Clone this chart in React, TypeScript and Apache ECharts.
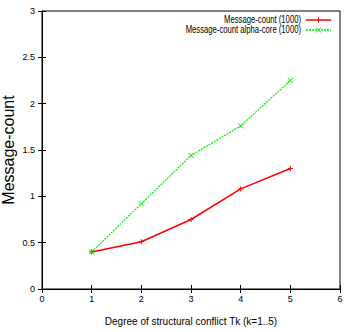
import React, { useEffect, useRef } from "react";
import * as echarts from "echarts";

const xValues = [1, 2, 3, 4, 5];
const messageCount = [0.4, 0.51, 0.75, 1.08, 1.3];
const messageCountAlpha = [0.4, 0.92, 1.44, 1.76, 2.25];
const seriesNames = ["Message-count (1000)", "Message-count alpha-core (1000)"];
const xAxisTitle = "Degree of structural conflict Tk (k=1..5)";
const yAxisTitle = "Message-count";

const FONT = "'Liberation Sans', Arial, sans-serif";
const PLUS = "path://M0,5L10,5M5,0L5,10";
const CROSS = "path://M0,0L10,10M10,0L0,10";
const RED = "#ff0000";
const GREEN = "#00ee00";

function legendEntry(name: string, y: number, color: string, dashed: boolean, cross: boolean) {
  const textRight = 301;
  const x1 = 306;
  const x2 = 331;
  const mx = 318.5;
  const s = 2.5;
  const marker = cross
    ? [
        { type: "line", shape: { x1: mx - s, y1: y - s, x2: mx + s, y2: y + s }, style: { stroke: color, lineWidth: 1 } },
        { type: "line", shape: { x1: mx - s, y1: y + s, x2: mx + s, y2: y - s }, style: { stroke: color, lineWidth: 1 } },
      ]
    : [
        { type: "line", shape: { x1: mx, y1: y - s, x2: mx, y2: y + s }, style: { stroke: color, lineWidth: 1 } },
      ];
  return [
    {
      type: "text",
      x: textRight,
      y,
      scaleX: 0.77,
      style: { text: name, x: 0, y: 0, align: "right", verticalAlign: "middle", fontFamily: FONT, fontSize: 10, fill: "#000" },
    },
    {
      type: "line",
      shape: { x1, y1: y, x2, y2: y },
      style: { stroke: color, lineWidth: 1.5, lineDash: dashed ? [2, 1] : null },
    },
    ...marker,
  ];
}

export default function App() {
  const ref = useRef<HTMLDivElement>(null);
  useEffect(() => {
    if (!ref.current) return;
    const chart = echarts.init(ref.current, null, { renderer: "svg" });
    const tickStyle = { show: true, inside: true, length: 4, lineStyle: { color: "#000", width: 1 } };
    chart.setOption({
      animation: false,
      textStyle: { fontFamily: FONT },
      grid: {
        left: 42, right: 9, top: 11, bottom: 43,
        containLabel: false, outerBoundsMode: "none",
        show: true, borderColor: "#000", borderWidth: 1, backgroundColor: "transparent",
      },
      graphic: [
        ...legendEntry(seriesNames[0], 20, RED, false, false),
        ...legendEntry(seriesNames[1], 30, GREEN, true, true),
      ],
      xAxis: [
        {
          type: "value", min: 0, max: 6, interval: 1,
          name: xAxisTitle,
          nameLocation: "middle", nameGap: 27, nameMoveOverlap: false,
          nameTextStyle: { fontFamily: FONT, fontSize: 10, color: "#000" },
          axisLine: { show: true, lineStyle: { color: "#000" } },
          axisTick: tickStyle,
          axisLabel: { color: "#000", fontSize: 9, fontFamily: FONT, margin: 5 },
          splitLine: { show: false },
        },
        {
          type: "value", min: 0, max: 6, interval: 1, position: "top",
          axisLine: { show: true, lineStyle: { color: "#000" } },
          axisTick: tickStyle, axisLabel: { show: false }, splitLine: { show: false },
        },
      ],
      yAxis: [
        {
          type: "value", min: 0, max: 3, interval: 0.5,
          name: yAxisTitle,
          nameLocation: "middle", nameGap: 26, nameMoveOverlap: false,
          nameTextStyle: { fontFamily: FONT, fontSize: 16, color: "#000" },
          axisLine: { show: true, lineStyle: { color: "#000" } },
          axisTick: tickStyle,
          axisLabel: { color: "#000", fontSize: 9, fontFamily: FONT, margin: 7 },
          splitLine: { show: false },
        },
        {
          type: "value", min: 0, max: 3, interval: 0.5, position: "right",
          axisLine: { show: true, lineStyle: { color: "#000" } },
          axisTick: tickStyle, axisLabel: { show: false }, splitLine: { show: false },
        },
      ],
      series: [
        {
          name: seriesNames[0], type: "line",
          data: xValues.map((x, i) => [x, messageCount[i]]),
          lineStyle: { color: RED, width: 1.5 },
          itemStyle: { color: RED, borderColor: RED, borderWidth: 1 },
          symbol: PLUS, symbolSize: 5, showSymbol: true,
        },
        {
          name: seriesNames[1], type: "line",
          data: xValues.map((x, i) => [x, messageCountAlpha[i]]),
          lineStyle: { color: GREEN, width: 1.2, type: [2, 1] },
          itemStyle: { color: GREEN, borderColor: GREEN, borderWidth: 1 },
          symbol: CROSS, symbolSize: 5, showSymbol: true,
        },
      ],
    });
    return () => chart.dispose();
  }, []);
  return <div ref={ref} style={{ width: 349, height: 332, position: "absolute", left: 0, top: 0, background: "#fff" }} />;
}
